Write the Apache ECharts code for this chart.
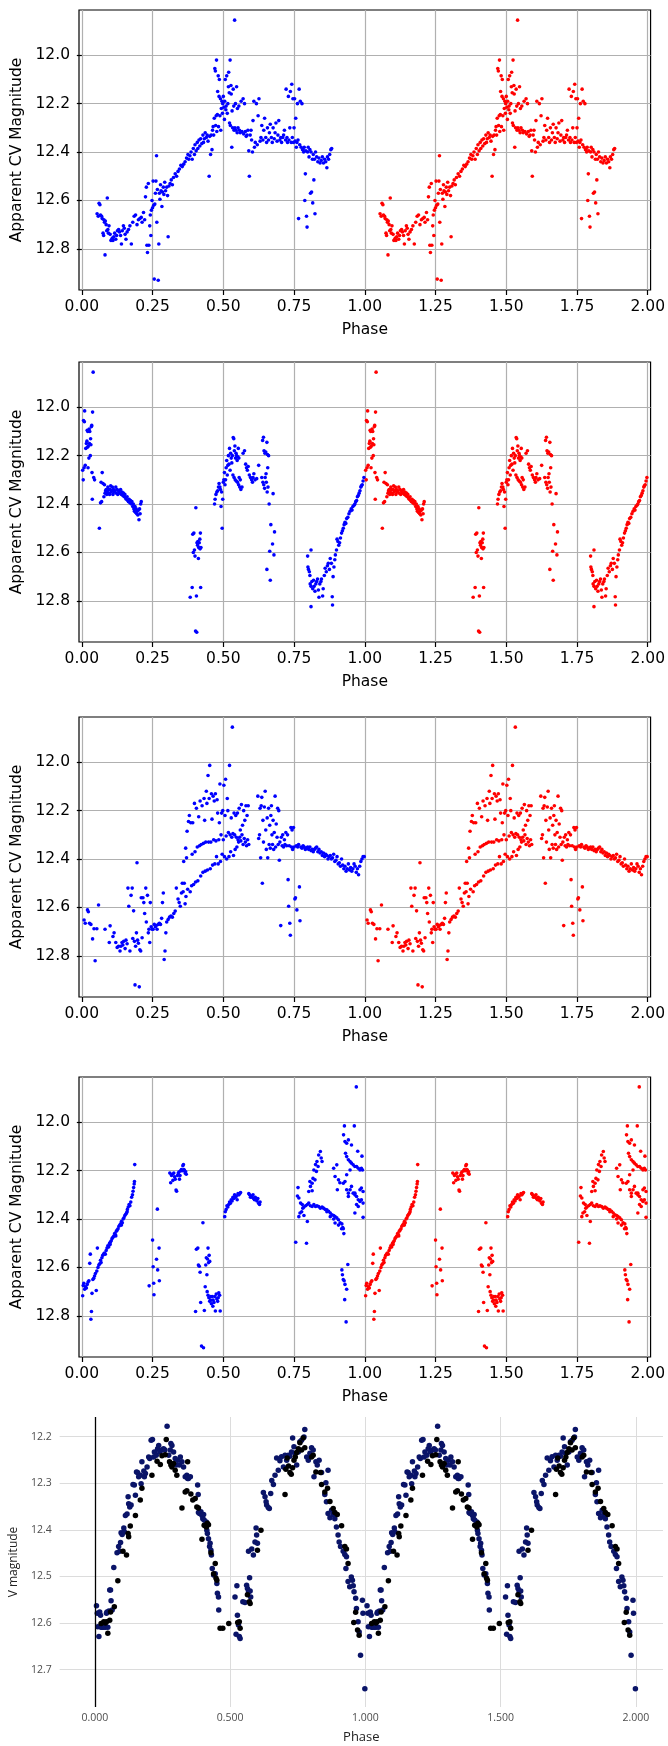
<!DOCTYPE html>
<html><head><meta charset="utf-8">
<script src="https://cdn.jsdelivr.net/npm/echarts@6/dist/echarts.min.js"></script>
<style>html,body{margin:0;padding:0;background:#fff}#c{width:668px;height:1746px}</style>
</head><body><div id="c"></div>
<script>
// ---- tick labels ----
const xTicksA = [0, 0.25, 0.5, 0.75, 1, 1.25, 1.5, 1.75, 2];
const yTicksA = [12.0, 12.2, 12.4, 12.6, 12.8];
const xTicksB = [0, 0.5, 1, 1.5, 2];
const yTicksB = [12.2, 12.3, 12.4, 12.5, 12.6, 12.7];

// ---- panel 1 (phase, magnitude), blue copy; red is the same observations at phase + 1 ----
const p1Blue = [[0.054,12.655],[0.058,12.665],[0.061,12.612],[0.064,12.618],[0.066,12.66],[0.07,12.665],[0.072,12.675],[0.075,12.735],[0.077,12.745],[0.078,12.68],[0.08,12.69],[0.082,12.825],[0.083,12.685],[0.086,12.7],[0.088,12.725],[0.09,12.59],[0.092,12.72],[0.094,12.735],[0.096,12.705],[0.1,12.74],[0.103,12.765],[0.106,12.76],[0.108,12.755],[0.11,12.765],[0.113,12.75],[0.116,12.735],[0.12,12.76],[0.123,12.745],[0.126,12.725],[0.13,12.72],[0.133,12.73],[0.137,12.745],[0.14,12.78],[0.143,12.725],[0.147,12.705],[0.15,12.715],[0.153,12.74],[0.156,12.76],[0.16,12.73],[0.165,12.72],[0.17,12.705],[0.175,12.78],[0.18,12.69],[0.185,12.665],[0.19,12.66],[0.195,12.7],[0.2,12.68],[0.205,12.675],[0.21,12.67],[0.213,12.69],[0.218,12.65],[0.222,12.68],
[0.225,12.585],[0.228,12.545],[0.23,12.785],[0.232,12.815],[0.235,12.53],[0.237,12.785],[0.24,12.705],[0.242,12.66],[0.244,12.745],[0.246,12.64],[0.248,12.6],[0.25,12.63],[0.252,12.52],[0.254,12.62],[0.256,12.925],[0.258,12.615],[0.26,12.57],[0.262,12.52],[0.264,12.415],[0.265,12.69],[0.267,12.555],[0.27,12.93],[0.272,12.78],[0.274,12.57],[0.276,12.595],[0.278,12.535],[0.28,12.56],[0.283,12.625],[0.285,12.565],[0.288,12.545],[0.29,12.575],[0.293,12.525],[0.296,12.56],[0.3,12.545],[0.303,12.58],[0.305,12.75],[0.308,12.54],
[0.312,12.53],[0.316,12.515],[0.32,12.535],[0.324,12.505],[0.33,12.49],[0.335,12.5],[0.34,12.48],[0.345,12.47],[0.35,12.455],[0.355,12.46],[0.36,12.45],[0.365,12.44],[0.37,12.425],[0.375,12.41],[0.378,12.43],[0.382,12.415],[0.386,12.4],[0.39,12.43],[0.394,12.385],[0.398,12.41],[0.4,12.37],[0.404,12.395],[0.408,12.36],[0.41,12.385],[0.414,12.35],[0.417,12.375],[0.42,12.345],[0.424,12.365],[0.428,12.33],[0.43,12.36],[0.433,12.345],[0.436,12.32],[0.44,12.34],[0.443,12.33],[0.446,12.355],[0.45,12.5],[0.452,12.335],[0.455,12.41],[0.457,12.33],[0.46,12.39],[0.462,12.31],[0.464,12.295],
[0.466,12.33],[0.468,12.26],[0.47,12.055],[0.472,12.065],[0.473,12.29],[0.475,12.25],[0.476,12.02],[0.477,12.315],[0.479,12.245],[0.48,12.15],[0.482,12.085],[0.483,12.295],[0.485,12.17],[0.486,12.1],[0.488,12.25],[0.49,12.18],[0.491,12.31],[0.493,12.22],[0.495,12.19],[0.497,12.24],[0.498,12.2],[0.5,12.17],[0.502,12.215],[0.504,12.265],[0.505,12.19],[0.507,12.1],[0.509,12.225],[0.51,12.21],[0.512,12.085],[0.514,12.24],[0.516,12.2],[0.518,12.13],[0.519,12.07],[0.521,12.155],[0.522,12.28],[0.524,12.02],[0.525,12.29],[0.527,12.125],[0.528,12.16],[0.53,12.38],[0.531,12.23],[0.533,12.3],[0.535,12.14],[0.537,12.21],[0.538,12.31],[0.54,11.855],[0.541,12.3],[0.543,12.2],[0.545,12.31],[0.547,12.13],[0.549,12.32],[0.55,12.22],[0.552,12.3],[0.555,12.21],[0.557,12.31],[0.56,12.32],[0.563,12.19],[0.566,12.315],[0.57,12.18],[0.572,12.325],[0.575,12.2],[0.578,12.315],[0.581,12.335],[0.584,12.33],[0.587,12.31],[0.59,12.395],[0.592,12.5],[0.595,12.33],[0.598,12.31],[0.6,12.35],[0.603,12.4],[0.605,12.27],[0.608,12.19],[0.61,12.38],[0.613,12.36],[0.617,12.2],[0.62,12.37],[0.623,12.25],[0.626,12.18],[0.63,12.355],[0.633,12.34],[0.636,12.29],[0.64,12.35],[0.643,12.31],[0.646,12.26],[0.65,12.34],[0.653,12.36],[0.656,12.3],[0.66,12.35],[0.663,12.32],[0.666,12.285],[0.67,12.34],[0.673,12.36],[0.676,12.3],[0.68,12.345],[0.683,12.32],[0.686,12.28],[0.69,12.355],[0.693,12.33],[0.696,12.27],[0.7,12.35],[0.703,12.34],[0.706,12.36],[0.71,12.34],[0.713,12.33],[0.716,12.31],[0.72,12.35],[0.722,12.14],[0.725,12.34],[0.727,12.36],[0.73,12.17],[0.732,12.35],[0.735,12.3],[0.737,12.15],[0.74,12.36],[0.742,12.12],[0.744,12.34],[0.746,12.18],[0.748,12.36],[0.75,12.3],[0.752,12.18],[0.754,12.355],[0.756,12.26],[0.758,12.38],[0.76,12.36],[0.762,12.2],[0.764,12.35],[0.766,12.675],[0.768,12.14],[0.77,12.37],[0.772,12.19],[0.775,12.38],[0.778,12.2],[0.78,12.39],[0.782,12.39],[0.784,12.4],[0.786,12.38],[0.788,12.6],[0.79,12.49],[0.792,12.395],[0.794,12.665],[0.796,12.71],[0.798,12.4],[0.8,12.38],[0.803,12.42],[0.806,12.39],[0.808,12.57],[0.81,12.4],[0.812,12.565],[0.815,12.43],[0.816,12.61],[0.818,12.41],[0.82,12.515],[0.822,12.43],[0.824,12.655],[0.826,12.4],[0.83,12.42],[0.834,12.44],[0.838,12.425],[0.842,12.445],[0.846,12.435],[0.85,12.42],[0.854,12.445],[0.858,12.43],[0.862,12.44],[0.866,12.465],[0.868,12.42],[0.872,12.43],[0.876,12.41],[0.88,12.39],[0.883,12.385]];

// ---- panel 2 ----
const p2Blue = [[0.003,12.26],[0.005,12.30],[0.006,12.055],[0.008,12.25],[0.009,12.06],[0.01,12.015],[0.012,12.24],[0.014,12.17],[0.016,12.15],[0.018,12.14],[0.019,12.095],[0.02,12.165],[0.021,12.1],[0.022,12.25],[0.023,12.16],[0.025,12.21],[0.026,12.09],[0.027,12.15],[0.028,12.1],[0.03,12.2],[0.031,12.13],[0.032,12.155],[0.034,12.08],[0.035,12.075],[0.036,12.27],[0.037,12.38],[0.038,12.02],[0.04,11.855],[0.042,12.29],[0.045,12.3],[0.062,12.5],[0.066,12.395],[0.068,12.31],[0.07,12.39],[0.072,12.27],[0.075,12.315],[0.078,12.37],[0.08,12.32],[0.082,12.355],[0.084,12.345],[0.086,12.34],[0.088,12.36],[0.09,12.35],[0.092,12.33],[0.094,12.34],[0.096,12.355],[0.098,12.36],[0.1,12.34],[0.102,12.325],[0.104,12.35],[0.106,12.345],[0.108,12.33],[0.11,12.36],[0.112,12.34],[0.115,12.35],[0.117,12.345],[0.12,12.33],[0.122,12.355],[0.125,12.34],[0.127,12.36],[0.13,12.345],[0.132,12.35],[0.135,12.355],[0.137,12.34],[0.14,12.36],[0.142,12.35],[0.145,12.365],[0.147,12.355],[0.15,12.37],[0.152,12.36],[0.155,12.375],[0.157,12.38],[0.16,12.37],[0.162,12.385],[0.165,12.39],[0.167,12.38],[0.17,12.395],[0.172,12.385],[0.175,12.4],[0.177,12.39],[0.18,12.41],[0.182,12.4],[0.184,12.42],[0.186,12.43],[0.188,12.41],[0.19,12.435],[0.192,12.42],[0.194,12.44],[0.196,12.43],[0.198,12.445],[0.2,12.425],[0.202,12.465],[0.204,12.42],[0.206,12.44],[0.208,12.4],[0.21,12.39],
[0.383,12.785],[0.39,12.745],[0.392,12.525],[0.394,12.6],[0.396,12.52],[0.398,12.59],[0.4,12.615],[0.402,12.925],[0.403,12.415],[0.405,12.78],[0.406,12.93],[0.407,12.56],[0.409,12.57],[0.41,12.555],[0.412,12.625],[0.413,12.58],[0.415,12.56],[0.417,12.545],[0.418,12.585],[0.419,12.52],[0.42,12.745],[0.421,12.58],
[0.469,12.40],[0.471,12.38],[0.474,12.36],[0.477,12.35],[0.48,12.345],[0.483,12.33],[0.485,12.315],[0.488,12.33],[0.49,12.34],[0.492,12.41],[0.494,12.35],[0.496,12.5],[0.498,12.38],[0.5,12.31],[0.502,12.3],[0.504,12.27],[0.506,12.32],[0.508,12.3],[0.51,12.25],[0.512,12.22],[0.514,12.28],[0.516,12.24],[0.518,12.2],[0.52,12.235],[0.522,12.17],[0.524,12.26],[0.526,12.19],[0.528,12.21],[0.53,12.23],[0.532,12.2],[0.535,12.125],[0.537,12.13],[0.539,12.18],[0.541,12.16],[0.543,12.21],[0.545,12.19],[0.547,12.2],[0.549,12.22],[0.551,12.205],[0.553,12.17],[0.555,12.21],[0.534,12.28],[0.538,12.29],[0.542,12.3],[0.546,12.305],[0.55,12.31],[0.554,12.32],[0.558,12.33],[0.562,12.34],[0.566,12.33],[0.56,12.3],[0.556,12.29],[0.57,12.19],[0.575,12.18],[0.579,12.235],[0.582,12.25],[0.585,12.26],[0.588,12.245],[0.592,12.28],[0.596,12.29],[0.6,12.3],[0.603,12.31],[0.605,12.29],[0.608,12.275],[0.612,12.3],[0.618,12.295],[0.625,12.24],[0.639,12.137],[0.642,12.124],[0.644,12.18],[0.647,12.19],[0.65,12.185],[0.654,12.145],[0.656,12.195],[0.66,12.2],[0.636,12.29],[0.64,12.31],[0.643,12.32],[0.646,12.335],[0.648,12.29],[0.652,12.31],[0.655,12.35],[0.658,12.33],[0.651,12.275],[0.657,12.25],[0.662,12.4],[0.668,12.485],[0.676,12.357],[0.681,12.515],[0.674,12.565],[0.679,12.61],[0.654,12.67],[0.666,12.715],[0.664,12.595],
[0.798,12.615],[0.799,12.66],[0.801,12.67],[0.804,12.68],[0.806,12.695],[0.81,12.59],[0.81,12.824],[0.807,12.73],[0.81,12.74],[0.813,12.72],[0.816,12.75],[0.819,12.715],[0.821,12.74],[0.824,12.76],[0.827,12.73],[0.83,12.72],[0.833,12.71],[0.836,12.755],[0.838,12.785],[0.841,12.73],[0.845,12.72],[0.847,12.71],[0.851,12.78],[0.853,12.75],[0.857,12.695],[0.86,12.665],[0.864,12.68],[0.868,12.655],[0.871,12.645],[0.875,12.67],[0.878,12.625],[0.882,12.645],[0.885,12.783],[0.886,12.817],[0.888,12.7],[0.891,12.66],[0.894,12.63],[0.896,12.61],[0.9,12.59],[0.902,12.545],[0.905,12.555],[0.908,12.57],[0.911,12.56],[0.914,12.54],[0.918,12.52],[0.921,12.51],[0.924,12.5],[0.927,12.485],[0.93,12.475],[0.933,12.48],[0.936,12.46],[0.94,12.455],[0.944,12.44],[0.948,12.43],[0.952,12.42],[0.955,12.425],[0.958,12.41],[0.962,12.405],[0.965,12.4],[0.968,12.39],[0.971,12.385],[0.974,12.37],[0.977,12.365],[0.98,12.355],[0.983,12.345],[0.986,12.33],[0.988,12.325],[0.991,12.32],[0.994,12.305],[0.997,12.29]];

// ---- panel 3 ----
const p3Blue = [[0.008,12.652],[0.012,12.665],[0.02,12.61],[0.023,12.618],[0.027,12.665],[0.032,12.67],[0.038,12.73],[0.043,12.688],[0.047,12.82],[0.053,12.688],[0.059,12.59],
[0.082,12.69],[0.097,12.745],[0.1,12.676],[0.11,12.72],[0.114,12.705],[0.12,12.745],[0.125,12.765],[0.13,12.76],[0.135,12.78],[0.138,12.76],[0.142,12.745],[0.145,12.755],[0.148,12.74],[0.153,12.77],[0.156,12.735],[0.16,12.75],[0.163,12.52],[0.166,12.595],[0.17,12.78],[0.174,12.55],[0.178,12.52],[0.18,12.728],[0.183,12.614],[0.186,12.74],[0.188,12.92],[0.19,12.76],[0.193,12.705],[0.195,12.415],[0.197,12.735],[0.2,12.748],[0.203,12.928],[0.205,12.775],[0.208,12.78],[0.21,12.56],[0.213,12.725],[0.216,12.56],[0.219,12.58],[0.222,12.625],[0.226,12.52],[0.228,12.66],[0.232,12.55],[0.235,12.705],[0.237,12.69],[0.24,12.745],[0.242,12.58],[0.245,12.68],[0.248,12.69],[0.252,12.69],[0.256,12.67],[0.26,12.68],[0.263,12.675],[0.266,12.69],[0.27,12.67],[0.274,12.665],[0.278,12.67],[0.282,12.645],[0.285,12.58],[0.288,12.54],[0.291,12.815],[0.294,12.78],[0.297,12.705],[0.3,12.66],[0.305,12.65],[0.31,12.64],[0.315,12.635],[0.32,12.64],[0.325,12.625],[0.33,12.615],
[0.334,12.52],[0.34,12.565],[0.344,12.58],[0.348,12.595],[0.352,12.54],[0.355,12.5],[0.358,12.535],[0.36,12.41],[0.362,12.5],[0.365,12.585],[0.367,12.355],[0.368,12.555],[0.37,12.395],[0.372,12.285],[0.374,12.525],[0.377,12.245],[0.38,12.22],[0.383,12.535],[0.385,12.25],[0.388,12.51],[0.39,12.38],[0.392,12.25],[0.395,12.505],[0.398,12.17],[0.4,12.37],[0.402,12.495],[0.405,12.19],[0.408,12.35],[0.41,12.49],[0.413,12.225],[0.416,12.345],[0.418,12.16],[0.42,12.47],[0.422,12.34],[0.425,12.18],[0.428,12.455],[0.43,12.335],[0.432,12.15],[0.434,12.24],[0.436,12.45],[0.438,12.33],[0.44,12.12],[0.442,12.17],[0.444,12.445],[0.446,12.055],[0.448,12.33],[0.45,12.15],[0.452,12.013],[0.454,12.44],[0.456,12.33],[0.458,12.13],[0.46,12.235],[0.462,12.425],[0.464,12.14],[0.466,12.32],[0.468,12.16],[0.47,12.42],[0.472,12.13],[0.474,12.325],[0.476,12.39],[0.478,12.155],[0.48,12.21],[0.482,12.42],[0.484,12.32],[0.486,12.25],[0.488,12.09],[0.49,12.41],[0.492,12.3],[0.494,12.21],[0.496,12.38],[0.498,12.2],[0.5,12.32],[0.502,12.095],[0.504,12.39],[0.506,12.22],[0.508,12.07],[0.51,12.305],[0.512,12.4],[0.514,12.15],[0.516,12.2],[0.518,12.29],[0.52,12.39],[0.522,12.013],[0.524,12.3],[0.526,12.37],[0.528,12.23],[0.53,12.31],[0.532,11.855],[0.534,12.295],[0.536,12.385],[0.538,12.21],[0.54,12.3],[0.542,12.36],[0.544,12.22],[0.546,12.31],[0.548,12.35],[0.55,12.21],[0.552,12.32],[0.554,12.33],[0.556,12.19],[0.558,12.31],[0.56,12.28],[0.562,12.325],[0.564,12.175],[0.566,12.3],[0.568,12.26],[0.57,12.34],[0.572,12.2],[0.574,12.315],[0.576,12.24],[0.578,12.33],[0.58,12.18],[0.582,12.345],[0.584,12.22],[0.586,12.32],[0.588,12.18],[0.59,12.34],
[0.622,12.14],[0.625,12.315],[0.628,12.3],[0.63,12.19],[0.632,12.395],[0.634,12.18],[0.636,12.145],[0.638,12.5],[0.64,12.24],[0.642,12.33],[0.645,12.185],[0.648,12.12],[0.65,12.28],[0.652,12.36],[0.655,12.23],[0.657,12.395],[0.66,12.19],[0.662,12.34],[0.664,12.26],[0.666,12.355],[0.668,12.22],[0.67,12.18],[0.672,12.3],[0.674,12.34],[0.676,12.24],[0.678,12.36],[0.68,12.29],[0.683,12.14],[0.685,12.35],[0.687,12.255],[0.69,12.31],[0.692,12.19],[0.694,12.34],[0.696,12.2],[0.698,12.405],[0.7,12.33],[0.703,12.675],[0.705,12.31],[0.708,12.345],[0.71,12.3],[0.713,12.35],[0.716,12.32],[0.718,12.34],[0.721,12.29],[0.724,12.345],[0.727,12.3],[0.729,12.485],[0.731,12.595],[0.733,12.345],[0.735,12.665],[0.737,12.715],[0.739,12.27],[0.741,12.35],[0.743,12.28],[0.745,12.36],[0.748,12.27],[0.75,12.35],[0.753,12.565],[0.755,12.56],[0.758,12.345],[0.76,12.61],[0.763,12.35],[0.766,12.34],[0.769,12.515],[0.771,12.655],[0.774,12.35],[0.778,12.355],[0.782,12.345],[0.786,12.35],[0.79,12.36],[0.794,12.355],[0.798,12.35],[0.802,12.36],[0.806,12.35],[0.81,12.365],[0.814,12.36],[0.818,12.37],[0.822,12.36],[0.826,12.355],[0.83,12.35],[0.834,12.37],[0.838,12.36],[0.842,12.375],[0.846,12.37],[0.85,12.385],[0.854,12.375],[0.858,12.39],[0.862,12.38],[0.866,12.385],[0.87,12.4],[0.874,12.39],[0.878,12.385],[0.882,12.4],[0.886,12.395],[0.89,12.38],[0.894,12.41],[0.898,12.405],[0.902,12.39],[0.906,12.42],[0.91,12.415],[0.914,12.43],[0.918,12.4],[0.922,12.425],[0.926,12.44],[0.93,12.43],[0.934,12.45],[0.938,12.44],[0.942,12.42],[0.946,12.445],[0.95,12.435],[0.954,12.45],[0.958,12.44],[0.962,12.42],[0.966,12.43],[0.97,12.455],[0.974,12.44],[0.978,12.465],[0.982,12.43],[0.986,12.41],[0.99,12.4],[0.994,12.39],[0.998,12.39]];

// ---- panel 4 ----
const p4Blue = [[0.003,12.717],[0.005,12.675],[0.007,12.665],[0.01,12.69],[0.013,12.68],[0.016,12.685],[0.019,12.67],[0.022,12.66],[0.025,12.655],[0.028,12.583],[0.03,12.545],[0.032,12.814],[0.034,12.782],[0.036,12.707],[0.039,12.65],[0.042,12.645],[0.045,12.635],[0.048,12.625],[0.051,12.695],[0.053,12.615],[0.055,12.52],[0.057,12.6],[0.06,12.59],[0.063,12.585],[0.066,12.57],[0.068,12.58],[0.071,12.56],[0.074,12.55],[0.077,12.545],[0.08,12.54],[0.083,12.545],[0.086,12.53],[0.089,12.52],[0.092,12.51],[0.095,12.515],[0.098,12.5],[0.101,12.495],[0.104,12.49],[0.107,12.48],[0.11,12.475],[0.113,12.47],[0.116,12.46],[0.119,12.465],[0.122,12.45],[0.125,12.445],[0.128,12.44],[0.131,12.43],[0.134,12.425],[0.137,12.42],[0.14,12.41],[0.143,12.415],[0.146,12.4],[0.149,12.395],[0.152,12.385],[0.155,12.38],[0.158,12.375],[0.161,12.36],[0.164,12.35],[0.167,12.34],[0.17,12.345],[0.173,12.33],[0.176,12.31],[0.179,12.3],[0.181,12.285],[0.183,12.27],[0.185,12.255],[0.186,12.245],[0.187,12.175],[0.12,12.47],[0.1,12.505],[0.14,12.425],[0.16,12.37],
[0.238,12.676],[0.25,12.487],[0.252,12.597],[0.254,12.665],[0.255,12.713],[0.264,12.566],[0.267,12.359],[0.268,12.61],[0.273,12.52],[0.274,12.655],
[0.311,12.21],[0.314,12.25],[0.317,12.22],[0.32,12.215],[0.322,12.24],[0.325,12.21],[0.328,12.225],[0.33,12.235],[0.333,12.28],[0.335,12.285],[0.338,12.22],[0.341,12.21],[0.344,12.205],[0.347,12.22],[0.35,12.2],[0.352,12.195],[0.355,12.2],[0.357,12.18],[0.359,12.175],[0.361,12.195],[0.363,12.2],[0.365,12.21],[0.367,12.205],[0.369,12.215],[0.345,12.235],
[0.402,12.782],[0.405,12.525],[0.41,12.52],[0.412,12.59],[0.415,12.595],[0.418,12.62],[0.42,12.745],[0.423,12.925],[0.428,12.415],[0.43,12.932],[0.433,12.778],[0.436,12.68],[0.438,12.59],[0.44,12.56],[0.442,12.63],[0.444,12.565],[0.446,12.52],[0.448,12.58],[0.45,12.55],[0.452,12.575],[0.443,12.7],[0.446,12.715],[0.449,12.725],[0.452,12.74],[0.455,12.735],[0.458,12.75],[0.461,12.72],[0.464,12.735],[0.467,12.745],[0.47,12.72],[0.472,12.78],[0.475,12.71],[0.477,12.73],[0.48,12.74],[0.482,12.725],[0.484,12.705],[0.487,12.715],[0.489,12.78],[0.463,12.76],[0.456,12.72],
[0.505,12.39],[0.507,12.37],[0.51,12.36],[0.513,12.345],[0.516,12.35],[0.519,12.34],[0.522,12.33],[0.525,12.335],[0.528,12.32],[0.531,12.325],[0.534,12.31],[0.537,12.315],[0.54,12.3],[0.543,12.31],[0.546,12.305],[0.549,12.32],[0.552,12.295],[0.555,12.3],[0.558,12.295],[0.561,12.29],
[0.59,12.295],[0.593,12.3],[0.596,12.31],[0.599,12.305],[0.602,12.31],[0.605,12.3],[0.607,12.315],[0.61,12.32],[0.613,12.31],[0.616,12.32],[0.619,12.325],[0.622,12.315],[0.625,12.335],[0.628,12.34],[0.63,12.33],
[0.756,12.496],[0.794,12.5],[0.764,12.27],[0.762,12.305],[0.767,12.313],[0.773,12.334],[0.779,12.34],[0.781,12.355],[0.785,12.35],[0.791,12.345],[0.797,12.34],[0.777,12.37],[0.771,12.375],[0.767,12.39],[0.785,12.385],[0.797,12.41],[0.802,12.334],[0.808,12.345],[0.814,12.348],[0.82,12.34],[0.826,12.348],[0.831,12.345],[0.837,12.348],[0.843,12.355],[0.849,12.35],[0.854,12.355],[0.86,12.36],[0.866,12.362],[0.872,12.368],[0.878,12.375],[0.884,12.382],[0.89,12.385],[0.895,12.39],[0.901,12.395],[0.907,12.403],[0.913,12.415],[0.919,12.42],[0.922,12.435],[0.924,12.44],[0.926,12.46],[0.918,12.44],[0.907,12.425],[0.895,12.416],[0.89,12.4],[0.878,12.39],[0.866,12.37],
[0.802,12.286],[0.808,12.265],[0.814,12.252],[0.817,12.232],[0.82,12.197],[0.826,12.175],[0.831,12.162],[0.837,12.135],[0.843,12.121],[0.846,12.148],[0.849,12.162],[0.835,12.183],[0.829,12.203],[0.824,12.238],[0.806,12.245],[0.814,12.283],
[0.89,12.19],[0.895,12.224],[0.901,12.176],[0.907,12.238],[0.903,12.279],[0.912,12.25],
[0.919,12.61],[0.921,12.63],[0.924,12.65],[0.927,12.655],[0.93,12.67],[0.936,12.69],[0.929,12.733],[0.94,12.588],[0.934,12.825],
[0.928,12.015],[0.963,12.015],[0.925,12.052],[0.93,12.08],[0.936,12.087],[0.942,12.073],[0.953,12.094],[0.932,12.128],[0.936,12.142],[0.942,12.155],[0.948,12.162],[0.953,12.169],[0.959,12.176],[0.965,12.183],[0.971,12.183],[0.977,12.19],[0.983,12.197],[0.988,12.19],[0.992,12.197],[0.948,12.197],[0.936,12.217],[0.93,12.245],[0.924,12.252],[0.936,12.279],[0.942,12.293],[0.948,12.279],[0.953,12.265],[0.965,12.293],[0.971,12.307],[0.977,12.32],[0.983,12.327],[0.988,12.32],[0.994,12.334],[0.971,12.34],[0.977,12.348],[0.965,12.375],[0.994,12.393],[0.942,12.307],[0.959,12.293],[0.965,12.3],[0.983,12.279],[0.988,12.272],[0.994,12.286],[0.97,11.854],[0.975,12.12],[0.99,12.14]];

// ---- panel 5 (one cycle, phase 0-1; the plot shows it twice) ----
const p5Navy = [[0.006,12.563],[0.009,12.579],[0.011,12.608],[0.015,12.629],[0.018,12.576],[0.021,12.583],[0.023,12.609],[0.027,12.609],[0.033,12.609],[0.039,12.609],[0.043,12.579],[0.045,12.576],[0.048,12.609],[0.052,12.574],[0.055,12.529],[0.058,12.529],[0.06,12.552],[0.064,12.572],[0.07,12.481],[0.082,12.449],[0.088,12.436],[0.092,12.446],[0.095,12.427],[0.097,12.406],[0.101,12.41],[0.107,12.396],[0.109,12.404],[0.113,12.369],[0.119,12.366],[0.123,12.329],[0.125,12.344],[0.129,12.351],[0.134,12.347],[0.141,12.303],[0.146,12.304],[0.15,12.326],[0.154,12.276],[0.158,12.277],[0.162,12.286],[0.168,12.283],[0.171,12.301],[0.174,12.254],[0.181,12.274],[0.183,12.286],[0.187,12.279],[0.193,12.265],[0.199,12.244],[0.203,12.247],[0.208,12.208],[0.213,12.206],[0.217,12.244],[0.22,12.233],[0.227,12.24],[0.232,12.226],[0.236,12.219],[0.24,12.233],[0.248,12.229],[0.254,12.226],[0.259,12.229],[0.267,12.178],[0.273,12.24],[0.279,12.229],[0.281,12.215],[0.285,12.219],[0.291,12.233],[0.297,12.247],[0.301,12.261],[0.306,12.251],[0.313,12.261],[0.316,12.244],[0.322,12.254],[0.328,12.265],[0.334,12.286],[0.34,12.283],[0.343,12.29],[0.346,12.29],[0.353,12.286],[0.38,12.304],[0.382,12.324],[0.383,12.363],[0.387,12.365],[0.392,12.361],[0.396,12.369],[0.399,12.376],[0.402,12.367],[0.404,12.379],[0.408,12.391],[0.412,12.383],[0.414,12.401],[0.416,12.408],[0.42,12.419],[0.424,12.436],[0.426,12.429],[0.429,12.444],[0.431,12.454],[0.434,12.483],[0.439,12.497],[0.445,12.494],[0.451,12.515],[0.453,12.536],[0.457,12.544],[0.458,12.572],
[0.518,12.544],[0.522,12.624],[0.525,12.52],[0.527,12.583],[0.531,12.604],[0.534,12.629],[0.537,12.633],[0.547,12.554],[0.555,12.556],[0.561,12.519],[0.564,12.526],[0.568,12.533],[0.572,12.503],[0.574,12.531],[0.576,12.544],[0.568,12.446],[0.58,12.441],[0.586,12.454],[0.592,12.426],[0.596,12.396],[0.598,12.411],[0.601,12.429],[0.623,12.32],[0.629,12.329],[0.633,12.34],[0.635,12.347],[0.641,12.352],[0.645,12.354],[0.65,12.322],[0.654,12.294],[0.66,12.303],[0.666,12.283],[0.672,12.246],[0.678,12.272],[0.684,12.252],[0.69,12.243],[0.697,12.265],[0.703,12.24],[0.709,12.251],[0.715,12.24],[0.721,12.242],[0.727,12.233],[0.731,12.203],[0.736,12.222],[0.74,12.236],[0.746,12.261],[0.752,12.233],[0.758,12.211],[0.764,12.208],[0.773,12.201],[0.776,12.185],[0.783,12.244],[0.789,12.251],[0.795,12.236],[0.801,12.224],[0.807,12.229],[0.81,12.286],[0.817,12.254],[0.822,12.261],[0.829,12.251],[0.838,12.277],[0.854,12.299],[0.862,12.272],[0.85,12.324],[0.856,12.34],[0.862,12.365],[0.869,12.374],[0.875,12.358],[0.881,12.367],[0.887,12.376],[0.893,12.394],[0.899,12.411],[0.903,12.426],[0.908,12.436],[0.918,12.446],[0.924,12.453],[0.93,12.458],[0.928,12.483],[0.936,12.511],[0.942,12.522],[0.948,12.501],[0.952,12.508],[0.955,12.52],[0.958,12.533],[0.964,12.547],[0.967,12.569],[0.973,12.597],[0.977,12.619],[0.982,12.669],[0.989,12.551],[0.991,12.579],[0.998,12.741]];
const p5Black = [[0.023,12.601],[0.033,12.597],[0.039,12.6],[0.043,12.597],[0.048,12.622],[0.055,12.594],[0.058,12.576],[0.072,12.565],[0.085,12.509],[0.104,12.446],[0.117,12.454],[0.123,12.408],[0.125,12.415],[0.131,12.392],[0.15,12.369],[0.168,12.336],[0.174,12.311],[0.211,12.283],[0.23,12.253],[0.242,12.26],[0.248,12.241],[0.26,12.239],[0.264,12.206],[0.276,12.254],[0.281,12.261],[0.285,12.265],[0.291,12.258],[0.297,12.272],[0.303,12.283],[0.322,12.353],[0.334,12.319],[0.34,12.316],[0.343,12.254],[0.355,12.323],[0.362,12.336],[0.371,12.333],[0.377,12.351],[0.383,12.353],[0.396,12.42],[0.404,12.39],[0.412,12.394],[0.416,12.386],[0.42,12.389],[0.429,12.449],[0.439,12.494],[0.445,12.472],[0.448,12.504],[0.451,12.508],[0.463,12.611],[0.473,12.611],[0.495,12.601],
[0.528,12.599],[0.534,12.597],[0.537,12.611],[0.564,12.539],[0.571,12.554],[0.574,12.558],[0.601,12.444],[0.614,12.401],[0.703,12.324],[0.706,12.27],[0.711,12.246],[0.716,12.263],[0.721,12.277],[0.726,12.281],[0.731,12.267],[0.736,12.251],[0.741,12.244],[0.746,12.234],[0.752,12.226],[0.758,12.213],[0.764,12.229],[0.77,12.203],[0.776,12.224],[0.801,12.244],[0.807,12.24],[0.817,12.276],[0.834,12.277],[0.838,12.303],[0.85,12.319],[0.86,12.311],[0.869,12.339],[0.881,12.354],[0.887,12.363],[0.896,12.367],[0.912,12.391],[0.924,12.436],[0.93,12.441],[0.936,12.472],[0.957,12.599],[0.964,12.577],[0.971,12.615],[0.977,12.626]];

// the second phase copy (phase + 1) of the same observations
const plusOne = d => d.map(([p, m]) => [+(p + 1).toFixed(3), m]);

const chart = echarts.init(document.getElementById('c'), null, {renderer: 'canvas'});
const MPL = 'DejaVu Sans';
const tops = [10, 362, 717, 1077];
const blueSets = [p1Blue, p2Blue, p3Blue, p4Blue];

const grids = [], xAxes = [], yAxes = [], series = [];
tops.forEach((t, i) => {
  grids.push({left: 79, top: t, width: 573, height: 280, show: true, borderColor: '#000', borderWidth: 1.2, backgroundColor: 'transparent'});
  xAxes.push({
    type: 'value', gridIndex: i, min: -0.01, max: 2.01,
    name: 'Phase', nameLocation: 'middle', nameGap: 32,
    nameTextStyle: {fontFamily: MPL, fontSize: 15.5, color: '#000'},
    axisLine: {show: false},
    axisTick: {show: true, length: 5, customValues: xTicksA, lineStyle: {color: '#000', width: 1.2}},
    axisLabel: {customValues: xTicksA, formatter: v => v.toFixed(2), fontFamily: MPL, fontSize: 15.5, color: '#000', margin: 9},
    splitLine: {show: true, lineStyle: {color: '#b0b0b0', width: 1.2}}
  });
  yAxes.push({
    type: 'value', gridIndex: i, inverse: true, min: 11.813, max: 12.97,
    name: 'Apparent CV Magnitude', nameLocation: 'middle', nameGap: 52, nameRotate: 90,
    nameTextStyle: {fontFamily: MPL, fontSize: 15.5, color: '#000'},
    axisLine: {show: false},
    axisTick: {show: true, length: 5, customValues: yTicksA, lineStyle: {color: '#000', width: 1.2}},
    axisLabel: {customValues: yTicksA, formatter: v => v.toFixed(1), fontFamily: MPL, fontSize: 15.5, color: '#000', margin: 9},
    splitLine: {show: true, lineStyle: {color: '#b0b0b0', width: 1.2}}
  });
  series.push({type: 'scatter', xAxisIndex: i, yAxisIndex: i, data: blueSets[i], symbolSize: 3.6, itemStyle: {color: '#0000ff', opacity: 1}, silent: true});
  series.push({type: 'scatter', xAxisIndex: i, yAxisIndex: i, data: plusOne(blueSets[i]), symbolSize: 3.6, itemStyle: {color: '#ff0000', opacity: 1}, silent: true});
});

// panel 5 (ggplot-like)
const GG = 'Open Sans';
grids.push({left: 59, top: 1417, width: 604, height: 290, show: false});
xAxes.push({
  type: 'value', gridIndex: 4, min: -0.13, max: 2.1,
  name: 'Phase', nameLocation: 'middle', nameGap: 24,
  nameTextStyle: {fontFamily: GG, fontSize: 13, color: '#222'},
  axisLine: {show: false},
  axisTick: {show: false, customValues: xTicksB},
  axisLabel: {customValues: xTicksB, formatter: v => v.toFixed(3), fontFamily: GG, fontSize: 10.5, color: '#4d4d4d', margin: 6},
  splitLine: {show: true, lineStyle: {color: '#dcdcdc', width: 1}}
});
yAxes.push({
  type: 'value', gridIndex: 4, inverse: true, min: 12.158, max: 12.78,
  name: 'V magnitude', nameLocation: 'middle', nameGap: 30, nameRotate: 90,
  nameTextStyle: {fontFamily: GG, fontSize: 12, color: '#222'},
  axisLine: {show: false},
  axisTick: {show: false, customValues: yTicksB},
  axisLabel: {customValues: yTicksB, formatter: v => v.toFixed(1), fontFamily: GG, fontSize: 10.5, color: '#4d4d4d', margin: 8},
  splitLine: {show: true, lineStyle: {color: '#dcdcdc', width: 1}}
});
series.push({type: 'scatter', xAxisIndex: 4, yAxisIndex: 4, data: p5Navy.concat(plusOne(p5Navy)), symbolSize: 5.5, itemStyle: {color: '#0a1468', opacity: 1}, silent: true,
  markLine: {silent: true, symbol: ['none', 'none'], label: {show: false}, lineStyle: {color: '#000', width: 1.3, type: 'solid'}, data: [{xAxis: 0}]}});
series.push({type: 'scatter', xAxisIndex: 4, yAxisIndex: 4, data: p5Black.concat(plusOne(p5Black)), symbolSize: 5.5, itemStyle: {color: '#000000', opacity: 1}, silent: true});

chart.setOption({animation: false, grid: grids, xAxis: xAxes, yAxis: yAxes, series: series});
</script></body></html>
